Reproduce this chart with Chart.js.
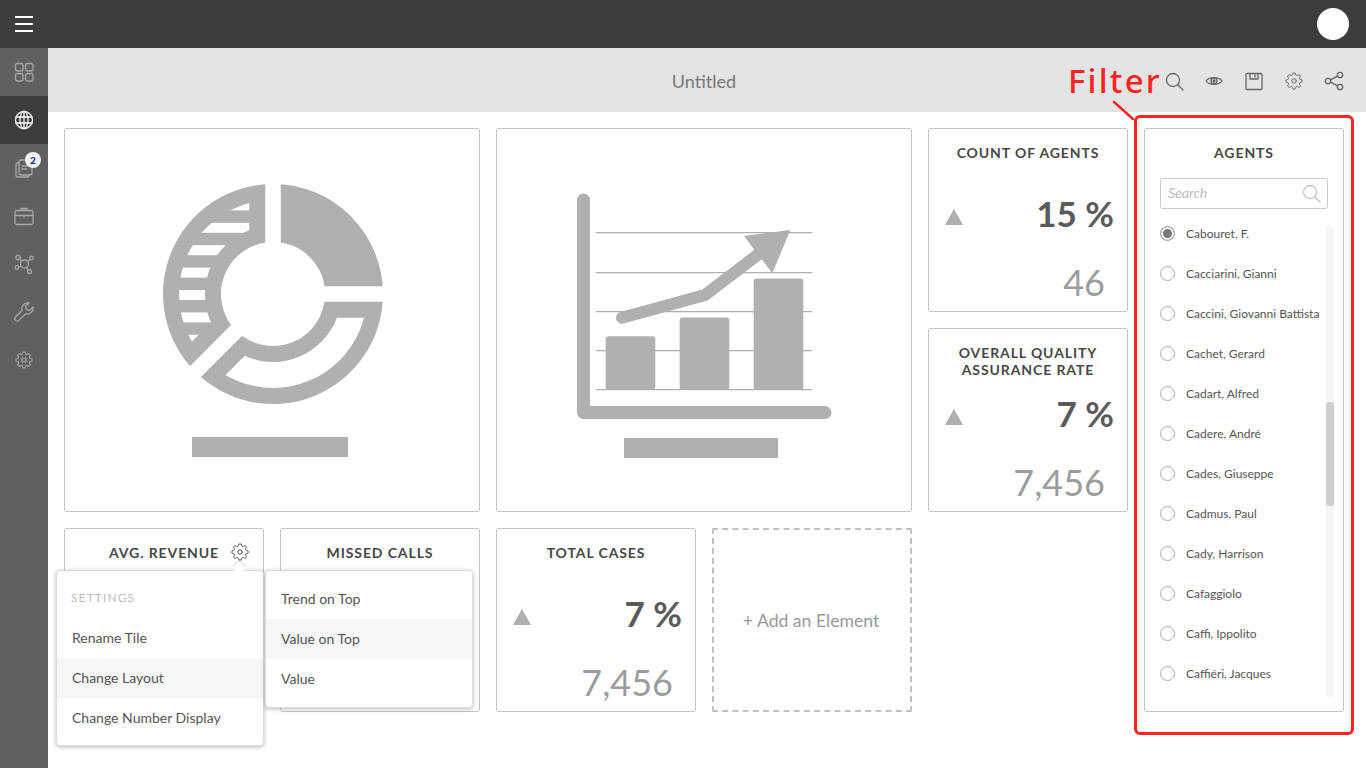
<!DOCTYPE html>
<html>
<head>
<meta charset="utf-8">
<title>Untitled</title>
<script src="https://cdn.jsdelivr.net/npm/chart.js@4/dist/chart.umd.js"></script>
<style>
  html, body { margin: 0; padding: 0; width: 1366px; height: 768px; overflow: hidden; background: #fff; font-family: Lato, sans-serif; color: #555; }
  .abs, .card, .txt, svg.ic { position: absolute; }
  .card { box-sizing: border-box; border: 1px solid #c4c4c4; border-radius: 3px; background: #fff; }
  .txt { white-space: nowrap; }
  .head { font-weight: 700; font-size: 14px; letter-spacing: 0.9px; color: #484848; text-align: center; line-height: 17px; }
  .pct { font-weight: 700; font-size: 35px; color: #5a5a5a; line-height: 40px; text-align: right; }
  .val { font-weight: 400; font-size: 36px; color: #9c9c9c; line-height: 40px; text-align: right; }
  .tri { position: absolute; width: 0; height: 0; border-left: 9.5px solid transparent; border-right: 9.5px solid transparent; border-bottom: 16px solid #b0b0b0; }
  .menu { position: absolute; box-sizing: border-box; background: #fff; border: 1px solid #dcdcdc; border-radius: 4px; box-shadow: 0 1px 4px rgba(0,0,0,.28); }
  .row { position: absolute; left: 0; right: 0; height: 40px; line-height: 40px; font-size: 14px; color: #555; }
  .row.on { background: #f7f7f7; }
  .agent { position: absolute; left: 1186px; font-size: 12px; line-height: 16px; color: #555; white-space: nowrap; }
  .radio { position: absolute; left: 1160px; width: 15px; height: 15px; box-sizing: border-box; border: 1px solid #aaa; border-radius: 50%; background: #fff; }
  svg.ic { fill: none; stroke-width: 1.3; stroke-linecap: round; stroke-linejoin: round; }
  canvas { position: absolute; }
</style>
</head>
<body>
<svg width="0" height="0" style="position:absolute">
  <symbol id="gear" viewBox="0 0 24 24"><circle cx="12" cy="12" r="3"/><path d="M19.4 15a1.65 1.65 0 0 0 .33 1.82l.06.06a2 2 0 0 1 0 2.83 2 2 0 0 1-2.83 0l-.06-.06a1.65 1.65 0 0 0-1.82-.33 1.65 1.65 0 0 0-1 1.51V21a2 2 0 0 1-2 2 2 2 0 0 1-2-2v-.09A1.65 1.65 0 0 0 9 19.4a1.65 1.65 0 0 0-1.82.33l-.06.06a2 2 0 0 1-2.83 0 2 2 0 0 1 0-2.83l.06-.06a1.65 1.65 0 0 0 .33-1.82 1.65 1.65 0 0 0-1.51-1H3a2 2 0 0 1-2-2 2 2 0 0 1 2-2h.09A1.65 1.65 0 0 0 4.6 9a1.65 1.65 0 0 0-.33-1.82l-.06-.06a2 2 0 0 1 0-2.83 2 2 0 0 1 2.83 0l.06.06a1.65 1.65 0 0 0 1.82.33H9a1.65 1.65 0 0 0 1-1.51V3a2 2 0 0 1 2-2 2 2 0 0 1 2 2v.09a1.65 1.65 0 0 0 1 1.51 1.65 1.65 0 0 0 1.82-.33l.06-.06a2 2 0 0 1 2.83 0 2 2 0 0 1 0 2.83l-.06.06a1.65 1.65 0 0 0-.33 1.82V9a1.65 1.65 0 0 0 1.51 1H21a2 2 0 0 1 2 2 2 2 0 0 1-2 2h-.09a1.65 1.65 0 0 0-1.51 1z"/></symbol>
</svg>

<!-- top bar -->
<div class="abs" style="left:0;top:0;width:1366px;height:48px;background:#3c3c3c"></div>
<div class="abs" style="left:15px;top:16px;width:18px;height:2px;background:#fff"></div>
<div class="abs" style="left:15px;top:23px;width:18px;height:2px;background:#fff"></div>
<div class="abs" style="left:15px;top:30px;width:18px;height:2px;background:#fff"></div>
<div class="abs" style="left:1317px;top:8px;width:32px;height:32px;border-radius:50%;background:#fff"></div>

<!-- side bar -->
<div class="abs" style="left:0;top:48px;width:48px;height:720px;background:#606060"></div>
<div class="abs" style="left:0;top:96px;width:48px;height:48px;background:#3c3c3c"></div>
<svg class="ic" style="left:12px;top:60px" width="24" height="24" stroke="#a8a8a8"><rect x="3.5" y="3.5" width="7.5" height="7.5" rx="2"/><rect x="13.5" y="3.5" width="7.5" height="7.5" rx="2"/><rect x="3.5" y="13.5" width="7.5" height="7.5" rx="2"/><rect x="13.5" y="13.5" width="7.5" height="7.5" rx="2"/></svg>
<svg class="ic" style="left:12px;top:108px" width="24" height="24" stroke="#fff"><circle cx="12" cy="12" r="8.5"/><ellipse cx="12" cy="12" rx="4" ry="8.5"/><path d="M12 3.5v17M4 9h16M4 15h16"/></svg>
<svg class="ic" style="left:12px;top:156px" width="24" height="24" stroke="#a8a8a8"><rect x="7" y="4" width="13" height="15" rx="2"/><path d="M7 7H6a2 2 0 0 0-2 2v10a2 2 0 0 0 2 2h9a2 2 0 0 0 2-2M10 10h7M10 13h5"/></svg>
<div class="abs" style="left:25px;top:152px;width:16px;height:16px;border-radius:50%;background:#f2f2f2;color:#1c3c6e;font-size:10px;font-weight:900;text-align:center;line-height:16px">2</div>
<svg class="ic" style="left:12px;top:204px" width="24" height="24" stroke="#a8a8a8"><rect x="3" y="6.5" width="18" height="14" rx="1.5"/><path d="M9 6.5V4.500h6v2M3 11.500h18M12 11v2.500"/></svg>
<svg class="ic" style="left:12px;top:252px" width="24" height="24" stroke="#a8a8a8"><circle cx="12.5" cy="12" r="4"/><circle cx="6" cy="5.5" r="2.2"/><circle cx="19.5" cy="6" r="1.8"/><circle cx="5" cy="15.5" r="1.8"/><circle cx="17.5" cy="19.5" r="2"/><path d="M7.6 7.2l2 2M16 9.5l2-2.3M6.7 15l2-1M14.5 15.500l2 2.300"/></svg>
<svg class="ic" style="left:12px;top:300px" width="24" height="24" stroke="#a8a8a8"><path d="M21 7l-3.500 3.500-3-1-1-3L17 3a6 6 0 0 0-7 7.500L3.500 17a2.400 2.400 0 0 0 3.400 3.400l6.500-6.500A6 6 0 0 0 21 7z"/></svg>
<svg class="ic" style="left:15px;top:351px;stroke-width:1.5" width="18" height="18" stroke="#a8a8a8"><use href="#gear"/></svg>

<!-- header -->
<div class="abs" style="left:48px;top:48px;width:1318px;height:64px;background:#e4e4e4"></div>
<div class="txt" style="left:604px;width:200px;top:70px;text-align:center;font-size:18px;line-height:22px;color:#777">Untitled</div>
<svg class="ic" style="left:1162px;top:69px" width="24" height="24" stroke="#666"><circle cx="11" cy="11" r="6.5"/><path d="M16 16l5 5"/></svg>
<svg class="ic" style="left:1202px;top:69px" width="24" height="24" stroke="#666"><path d="M4 12c3-4.500 13-4.500 16 0c-3 4.500-13 4.500-16 0z"/><circle cx="12" cy="12" r="3"/><circle cx="12" cy="12" r="1"/></svg>
<svg class="ic" style="left:1242px;top:69px" width="24" height="24" stroke="#666"><path d="M5 4.500h14a1 1 0 0 1 1 1v14a1 1 0 0 1-1 1H5a1 1 0 0 1-1-1v-14a1 1 0 0 1 1-1zM8 4.500v5.500h8V4.500M13 6v2"/></svg>
<svg class="ic" style="left:1285px;top:72px" width="18" height="18" stroke="#666"><use href="#gear"/></svg>
<svg class="ic" style="left:1322px;top:69px" width="24" height="24" stroke="#666"><circle cx="18" cy="6" r="2.700"/><circle cx="6" cy="12" r="2.700"/><circle cx="18" cy="18" r="2.700"/><path d="M8.500 10.800l7-3.600M8.500 13.200l7 3.600"/></svg>

<!-- chart cards -->
<div class="card" style="left:64px;top:128px;width:416px;height:384px"></div>
<div class="card" style="left:496px;top:128px;width:416px;height:384px"></div>
<canvas id="donut" width="242" height="242" style="left:152px;top:173px;width:242px;height:242px"></canvas>
<canvas id="combo" width="274" height="245" style="left:566px;top:185px;width:274px;height:245px"></canvas>
<div class="abs" style="left:192px;top:437px;width:156px;height:20px;background:#b0b0b0"></div>
<div class="abs" style="left:624px;top:438px;width:154px;height:20px;background:#b0b0b0"></div>

<!-- value tiles -->
<div class="card" style="left:928px;top:128px;width:200px;height:184px"></div>
<div class="txt head" style="left:928px;width:200px;top:144px">COUNT OF AGENTS</div>
<div class="tri" style="left:945px;top:209px"></div>
<div class="txt pct" style="right:252px;top:193px">15 %</div>
<div class="txt val" style="right:261px;top:262px">46</div>

<div class="card" style="left:928px;top:328px;width:200px;height:184px"></div>
<div class="txt head" style="left:928px;width:200px;top:344px">OVERALL QUALITY<br>ASSURANCE RATE</div>
<div class="tri" style="left:945px;top:409px"></div>
<div class="txt pct" style="right:252px;top:393px">7 %</div>
<div class="txt val" style="right:261px;top:462px">7,456</div>

<div class="card" style="left:64px;top:528px;width:200px;height:184px"></div>
<div class="txt head" style="left:64px;width:200px;top:544px">AVG. REVENUE</div>
<svg class="ic" style="left:231px;top:543px" width="18" height="18" stroke="#555"><use href="#gear"/></svg>

<div class="card" style="left:280px;top:528px;width:200px;height:184px"></div>
<div class="txt head" style="left:280px;width:200px;top:544px">MISSED CALLS</div>

<div class="card" style="left:496px;top:528px;width:200px;height:184px"></div>
<div class="txt head" style="left:496px;width:200px;top:544px">TOTAL CASES</div>
<div class="tri" style="left:513px;top:609px"></div>
<div class="txt pct" style="right:684px;top:593px">7 %</div>
<div class="txt val" style="right:693px;top:662px">7,456</div>

<div class="abs" style="left:712px;top:528px;width:200px;height:184px;box-sizing:border-box;border:2px dashed #c0c0c0;border-radius:2px"></div>
<div class="txt" style="left:712px;width:198px;top:610px;text-align:center;font-size:17.6px;line-height:22px;color:#999">+ Add an Element</div>

<!-- settings menus -->
<div class="menu" style="left:56px;top:570px;width:208px;height:176px">
  <div class="txt" style="left:14px;top:19px;font-size:12px;letter-spacing:1.1px;color:#bdbdbd;line-height:16px">SETTINGS</div>
  <div class="row" style="top:47px;padding-left:15px">Rename Tile</div>
  <div class="row on" style="top:87px;padding-left:15px">Change Layout</div>
  <div class="row" style="top:127px;padding-left:15px">Change Number Display</div>
</div>
<div class="abs" style="left:234px;top:563px;width:10px;height:10px;background:#fff;transform:rotate(45deg);box-shadow:-1px -1px 1px rgba(0,0,0,.12)"></div>
<div class="abs" style="left:228px;top:571px;width:24px;height:8px;background:#fff"></div>
<div class="menu" style="left:265px;top:570px;width:208px;height:138px">
  <div class="row" style="top:8px;padding-left:15px">Trend on Top</div>
  <div class="row on" style="top:48px;padding-left:15px">Value on Top</div>
  <div class="row" style="top:88px;padding-left:15px">Value</div>
</div>

<!-- agents filter -->
<div class="card" style="left:1144px;top:128px;width:200px;height:584px"></div>
<div class="txt head" style="left:1144px;width:200px;top:144px">AGENTS</div>
<div class="abs" style="left:1160px;top:178px;width:168px;height:31px;box-sizing:border-box;border:1px solid #ccc;border-radius:3px"></div>
<div class="txt" style="left:1168px;top:184px;font-size:14px;font-style:italic;line-height:17px;color:#bbb">Search</div>
<svg class="ic" style="left:1300px;top:182px" width="22" height="22" stroke="#c4c4c4"><circle cx="10" cy="10" r="6.500"/><path d="M15 15l5 5"/></svg>
<div class="abs" style="left:1326px;top:225px;width:8px;height:473px;background:#f6f6f6;border-radius:3px"></div>
<div class="abs" style="left:1326px;top:402px;width:8px;height:104px;background:#cdcdcd;border-radius:3px"></div>
<div id="agents"></div>

<!-- filter call-out -->
<div class="abs" style="left:1134px;top:115px;width:220px;height:620px;box-sizing:border-box;border:3px solid #ff2323;border-radius:6px"></div>
<svg class="ic" style="left:1110px;top:98px;stroke-width:2.500" width="30" height="24" stroke="#ff2323"><path d="M4 4l19 17"/></svg>
<div class="txt" style="left:1068px;top:60px;font-family:'Noto Sans',sans-serif;font-weight:500;font-size:33px;letter-spacing:2.2px;line-height:42px;color:#ff2323">Filter</div>

<script>
// placeholder ring
const sliceLabels = ['Solid', 'Outline', 'Hatched'];
const sliceValues = [25, 37.5, 37.5];

// placeholder bars + trend arrow
const barPositions = [1, 2, 3];
const barValues = [1.36, 1.84, 2.83];
const trendPositions = [0.884, 2.007, 2.87];
const trendValues = [1.84, 2.42, 3.66];
const gridTicks = [0, 1, 2, 3, 4];

const agentNames = ['Cabouret, F.', 'Cacciarini, Gianni', 'Caccini, Giovanni Battista', 'Cachet, Gerard', 'Cadart, Alfred', 'Cadere, André', 'Cades, Giuseppe', 'Cadmus, Paul', 'Cady, Harrison', 'Cafaggiolo', 'Caffi, Ippolito', 'Caffiéri, Jacques'];

const GREY = '#b0b0b0';

// agent list
const agentsEl = document.getElementById('agents');
agentNames.forEach((name, i) => {
  const y = 233 + i * 40;
  const radio = document.createElement('div');
  radio.className = 'radio';
  radio.style.top = (y - 7) + 'px';
  if (i === 0) {
    radio.style.background = '#777';
    radio.style.boxShadow = 'inset 0 0 0 2px #fff';
  }
  agentsEl.appendChild(radio);
  const label = document.createElement('div');
  label.className = 'agent';
  label.style.top = (y - 7) + 'px';
  label.textContent = name;
  agentsEl.appendChild(label);
});

// horizontal stripes for the hatched slice (tile = 5 stripe periods)
function makeStripes(ctx) {
  const tile = document.createElement('canvas');
  tile.width = 10;
  tile.height = 112;
  const t = tile.getContext('2d');
  t.fillStyle = GREY;
  t.fillRect(0, 0, 10, 112);
  t.fillStyle = '#fff';
  [5, 27.4, 49.8, 72.2, 94.6].forEach(y => t.fillRect(0, y, 10, 10));
  return ctx.createPattern(tile, 'repeat');
}

// Chart.js spacing gives wedge shaped gaps, the picture has parallel ones.
// So cut the gaps in white along each arc's start angle, then paint the
// slice interiors inset from those cuts.
const GAP = 15.5;
const RIM = 16;
const donutCtx = document.getElementById('donut').getContext('2d');
const sliceFills = [null, '#fff', makeStripes(donutCtx)];

const sliceCuts = {
  id: 'sliceCuts',
  afterDatasetsDraw(chart) {
    const { ctx } = chart;
    const arcs = chart.getDatasetMeta(0).data;
    ctx.save();
    arcs.forEach((arc, i) => {
      const fill = sliceFills[i];
      if (!fill) return;
      const a0 = arc.startAngle, a1 = arc.endAngle, mid = (a0 + a1) / 2;
      const inset = GAP / 2 + RIM;
      const apex = inset / Math.sin((a1 - a0) / 2);
      const ax = arc.x + Math.cos(mid) * apex, ay = arc.y + Math.sin(mid) * apex;
      ctx.save();
      ctx.beginPath();
      ctx.moveTo(ax, ay);
      [a0, mid, a1].forEach(a => ctx.lineTo(ax + Math.cos(a) * 400, ay + Math.sin(a) * 400));
      ctx.closePath();
      ctx.clip();
      ctx.beginPath();
      ctx.arc(arc.x, arc.y, arc.outerRadius - RIM, a0, a1);
      ctx.arc(arc.x, arc.y, arc.innerRadius + RIM, a1, a0, true);
      ctx.closePath();
      ctx.fillStyle = fill;
      ctx.fill();
      ctx.restore();
    });
    ctx.strokeStyle = '#fff';
    ctx.lineWidth = GAP;
    arcs.forEach(arc => {
      ctx.beginPath();
      ctx.moveTo(arc.x, arc.y);
      ctx.lineTo(arc.x + Math.cos(arc.startAngle) * 125, arc.y + Math.sin(arc.startAngle) * 125);
      ctx.stroke();
    });
    ctx.restore();
  }
};

new Chart(donutCtx, {
  type: 'doughnut',
  plugins: [sliceCuts],
  data: {
    labels: sliceLabels,
    datasets: [{
      data: sliceValues,
      backgroundColor: GREY,
      borderWidth: 0
    }]
  },
  options: {
    responsive: false,
    animation: false,
    radius: 110,
    cutout: '47.3%',
    plugins: { legend: { display: false }, tooltip: { enabled: false } }
  }
});

// thick L shaped axis around the plot
const lAxis = {
  id: 'lAxis',
  afterDraw(chart) {
    const { ctx, chartArea } = chart;
    ctx.save();
    ctx.strokeStyle = GREY;
    ctx.lineWidth = 13;
    ctx.lineCap = 'round';
    ctx.lineJoin = 'round';
    ctx.beginPath();
    ctx.moveTo(chartArea.left - 12.5, chartArea.top - 33);
    ctx.lineTo(chartArea.left - 12.5, chartArea.bottom + 22.5);
    ctx.lineTo(chartArea.right + 13, chartArea.bottom + 22.5);
    ctx.stroke();
    ctx.restore();
  }
};

new Chart(document.getElementById('combo'), {
  type: 'bar',
  plugins: [lAxis],
  data: {
    datasets: [{
      type: 'line',
      data: trendPositions.map((x, i) => ({ x, y: trendValues[i] })),
      borderColor: GREY,
      backgroundColor: GREY,
      borderWidth: 12,
      borderCapStyle: 'round',
      borderJoinStyle: 'miter',
      tension: 0,
      clip: false,
      pointStyle: 'triangle',
      pointRadius: [0, 0, 25],
      pointRotation: [0, 0, 52.7],
      pointBorderWidth: [0, 0, 2],
      pointBorderColor: GREY,
      pointBackgroundColor: GREY,
      order: 1
    }, {
      type: 'bar',
      data: barPositions.map((x, i) => ({ x, y: barValues[i] })),
      backgroundColor: GREY,
      barThickness: 49,
      borderRadius: 3,
      borderSkipped: false,
      order: 2
    }]
  },
  options: {
    responsive: false,
    animation: false,
    layout: { padding: { left: 30, right: 28, top: 48, bottom: 40 } },
    plugins: { legend: { display: false }, tooltip: { enabled: false } },
    scales: {
      x: { type: 'linear', display: false, offset: false, min: 0.534, max: 3.453 },
      y: {
        min: 0,
        max: 4,
        afterBuildTicks(scale) { scale.ticks = gridTicks.map(value => ({ value })); },
        ticks: { display: false },
        border: { display: false },
        grid: { color: GREY, lineWidth: 1.2, drawTicks: false }
      }
    }
  }
});
</script>
</body>
</html>
